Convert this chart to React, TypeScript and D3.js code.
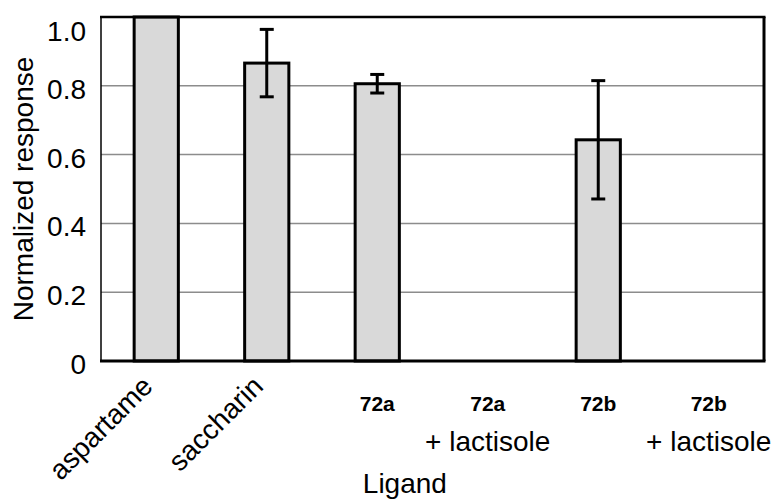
import React from "react";
import * as d3 from "d3";

const categories = ["aspartame", "saccharin", "72a", "72a + lactisole", "72b", "72b + lactisole"];
const values: (number | null)[] = [1.0, 0.866, 0.806, null, 0.643, null];
const errors: (number | null)[] = [null, 0.098, 0.027, null, 0.172, null];
const labelMain = ["aspartame", "saccharin", "72a", "72a", "72b", "72b"];
const labelSub = ["", "", "", "+ lactisole", "", "+ lactisole"];
const labelRotated = [true, true, false, false, false, false];
const yTicks = [0, 0.2, 0.4, 0.6, 0.8, 1.0];
const yTitle = "Normalized response";
const xTitle = "Ligand";

const W = 781;
const H = 500;
const margin = { top: 17, right: 17, bottom: 139, left: 101 };
const FONT = "'Liberation Sans', Arial, sans-serif";

export default function App() {
  const x = d3
    .scaleBand<string>()
    .domain(categories)
    .range([margin.left, W - margin.right])
    .paddingInner(0.6)
    .paddingOuter(0.3);
  const y = d3.scaleLinear().domain([0, 1]).range([H - margin.bottom, margin.top]);
  const step = x.step();
  const bw = x.bandwidth();
  const x0 = margin.left;
  const x1 = W - margin.right;
  const y0 = y(0);
  const y1 = y(1);
  const cx = (c: string) => (x(c) as number) + bw / 2;

  return (
    <svg
      width={W}
      height={H}
      style={{ position: "absolute", left: 0, top: 0, background: "#fff" }}
      fontFamily={FONT}
    >
      {/* gridlines */}
      {yTicks
        .filter((t) => t > 0 && t < 1)
        .map((t) => (
          <line key={"g" + t} x1={x0} x2={x1} y1={y(t)} y2={y(t)} stroke="#8c8c8c" strokeWidth={1.5} />
        ))}
      {/* bars */}
      {categories.map((c, i) =>
        values[i] == null ? null : (
          <rect
            key={"b" + c}
            x={x(c)}
            y={y(values[i] as number)}
            width={bw}
            height={y0 - y(values[i] as number)}
            fill="#d9d9d9"
            stroke="#000"
            strokeWidth={3}
          />
        )
      )}
      {/* error bars */}
      {categories.map((c, i) => {
        const v = values[i];
        const e = errors[i];
        if (v == null || e == null) return null;
        const px = cx(c);
        const yt = y(v + e);
        const yb = y(v - e);
        return (
          <g key={"e" + c} stroke="#000" strokeWidth={3}>
            <line x1={px} x2={px} y1={yt} y2={yb} />
            <line x1={px - 7} x2={px + 7} y1={yt} y2={yt} />
            <line x1={px - 7} x2={px + 7} y1={yb} y2={yb} />
          </g>
        );
      })}
      {/* frame */}
      <line x1={x0} x2={x0} y1={y1} y2={y0} stroke="#000" strokeWidth={1.5} />
      <line x1={x0 - 1} x2={x1 + 1.5} y1={y1} y2={y1} stroke="#000" strokeWidth={2.5} />
      <line x1={x1} x2={x1} y1={y1} y2={y0} stroke="#000" strokeWidth={3} />
      <line x1={x0 - 1} x2={x1 + 1.5} y1={y0} y2={y0} stroke="#000" strokeWidth={3} />
      {/* y tick labels */}
      {yTicks.map((t) => (
        <text
          key={"t" + t}
          x={86}
          y={Math.max(y(t) + 13, margin.top + 24)}
          textAnchor="end"
          fontSize={28}
          fill="#000"
        >
          {t === 0 ? "0" : d3.format(".1f")(t)}
        </text>
      ))}
      {/* y title */}
      <text
        transform={`translate(33, ${(y0 + y1) / 2}) rotate(-90)`}
        textAnchor="middle"
        fontSize={28}
        fill="#000"
      >
        {yTitle}
      </text>
      {/* x labels */}
      {categories.map((c, i) => {
        const px = cx(c);
        if (labelRotated[i]) {
          return (
            <text
              key={"l" + c}
              transform={`translate(${px - 2}, ${y0 + 27}) rotate(-45)`}
              textAnchor="end"
              fontSize={28}
              fill="#000"
            >
              {labelMain[i]}
            </text>
          );
        }
        const subW = labelSub[i] ? 124 : 0;
        const lx = Math.min(px, W + 2 - subW / 2);
        return (
          <g key={"l" + c}>
            <text x={lx} y={y0 + 50} textAnchor="middle" fontSize={21} fontWeight="bold" fill="#000">
              {labelMain[i]}
            </text>
            {labelSub[i] && (
              <text x={lx} y={y0 + 90} textAnchor="middle" fontSize={28} fill="#000">
                {labelSub[i]}
              </text>
            )}
          </g>
        );
      })}
      {/* x title */}
      <text x={x0 + step * 2.75} y={493} textAnchor="middle" fontSize={28} fill="#000">
        {xTitle}
      </text>
    </svg>
  );
}
